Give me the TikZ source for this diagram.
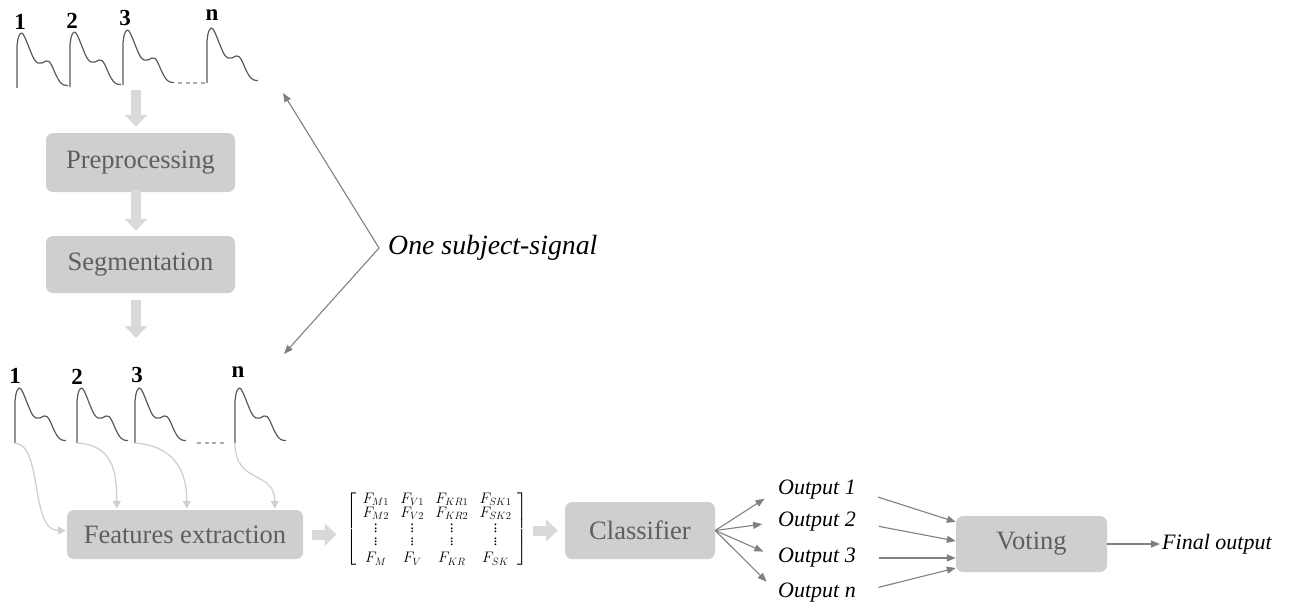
\documentclass[tikz,border=0pt]{standalone}
\usepackage{amsmath}
\usepackage{graphicx}
\usepackage{fontspec}
\setmainfont{Liberation Serif}
\usetikzlibrary{arrows.meta,calc}

\definecolor{boxfill}{HTML}{D0CECE}
\definecolor{boxtext}{HTML}{5F5F5F}
\definecolor{blockgray}{HTML}{D9D9D9}
\definecolor{curvegray}{HTML}{D0D0D0}
\definecolor{linegray}{HTML}{808080}
\definecolor{siggray}{HTML}{5A5A5A}
\definecolor{dotgray}{HTML}{ABABAB}

% compact column of three dots for the feature matrix
\newcommand{\coldots}{\vbox{\baselineskip3.6pt\lineskiplimit0pt\kern1pt\hbox{.}\hbox{.}\hbox{.}}}

\tikzset{
  stagebox/.style={rectangle, rounded corners=7pt, fill=boxfill, text=boxtext,
    font=\fontsize{26.5}{30}\selectfont, inner sep=0pt},
  blockarrow/.style={draw=blockgray, line width=10pt, -{Triangle[length=12pt,width=22pt]}},
  thinarrow/.style={draw=linegray, line width=1.1pt, -{Triangle[length=9pt,width=7pt]}},
  curvearrow/.style={draw=curvegray, line width=1.3pt, -{Triangle[length=8pt,width=8pt]}},
  sigline/.style={draw=siggray, line width=1.2pt, line join=round},
  dotrun/.style={draw=dotgray, line width=2.8pt, dash pattern=on 4pt off 3.5pt},
  idx/.style={font=\fontsize{23}{25}\selectfont\bfseries, inner sep=0pt},
  outlabel/.style={font=\fontsize{22}{26}\selectfont\itshape, anchor=west, inner sep=0pt},
  pulse/.pic={
    \draw[sigline] (0,0) -- (0,-42)
      plot[smooth, tension=0.55] coordinates {(0,-42) (1.2,-50) (3.5,-54.5) (6,-54) (9,-48)
        (13,-38) (17,-29) (21,-25) (25,-25) (29,-27) (32,-26.5) (35,-22) (39,-13)
        (43,-6) (47,-3) (51,-2.5)};
  }
}

\begin{document}
\begin{tikzpicture}[x=1pt, y=-1pt]
  \useasboundingbox (0,0) rectangle (1293,606);

  % ---- raw signal train ----
  \pic at (17,88) {pulse};
  \pic at (70,87) {pulse};
  \pic at (123,85) {pulse};
  \pic at (207,83) {pulse};
  \draw[dotrun] (178,83) -- (206,83);
  \node[idx] (t1) at (20,22) {1};
  \node[idx] (t2) at (72,21) {2};
  \node[idx] (t3) at (125,18) {3};
  \node[idx] (tn) at (212,15) {n};

  % ---- stages ----
  \node[stagebox, minimum width=189pt, minimum height=59pt] (pre) at (140.5,162.5) {Preprocessing};
  \node[stagebox, minimum width=189pt, minimum height=57pt] (seg) at (140.5,264.5) {Segmentation};

  \coordinate (topsig) at (136,90);
  \coordinate (lowsig) at (136,338);
  \draw[blockarrow, shorten >=6pt] (topsig) -- (topsig |- pre.north);
  \draw[blockarrow, shorten <=-2pt, shorten >=5pt] (topsig |- pre.south) -- (topsig |- seg.north);
  \draw[blockarrow, shorten <=7pt] (topsig |- seg.south) -- (lowsig);

  % ---- segmented beats ----
  \pic at (15,443) {pulse};
  \pic at (77,443) {pulse};
  \pic at (135,443) {pulse};
  \pic at (235,443) {pulse};
  \draw[dotrun] (197,443) -- (226,443);
  \node[idx] (s1) at (15,376) {1};
  \node[idx] (s2) at (77,377) {2};
  \node[idx] (s3) at (137,375) {3};
  \node[idx] (sn) at (238,372) {n};
  \coordinate (b1) at (15,443);
  \coordinate (b2) at (77,443);
  \coordinate (b3) at (135,443);
  \coordinate (bn) at (235,443);

  % ---- one subject-signal bracket ----
  \node[font=\fontsize{27.8}{30}\selectfont\itshape, anchor=west, inner sep=0pt] (oss) at (388,248) {One subject-signal};
  \coordinate (vtx) at ($(oss.west)+(-9,0)$);
  \coordinate (sigtop) at (283,93);
  \coordinate (siglow) at (284,354);
  \draw[thinarrow] (vtx) -- (sigtop);
  \draw[thinarrow] (vtx) -- (siglow);

  % ---- feature extraction ----
  \node[stagebox, minimum width=236pt, minimum height=49pt] (fe) at (185,534.5) {Features extraction};
  \draw[curvearrow] (b1) .. controls ($(b1)+(28,2)$) and ($(fe.west)+(-37,-4)$) .. ($(fe.west)+(-1,-4)$);
  \draw[curvearrow] (b2) .. controls ($(b2)+(35,2)$) and ($(fe.north west)+(50,-40)$) .. ($(fe.north west)+(50,-1)$);
  \draw[curvearrow] (b3) .. controls ($(b3)+(40,3)$) and ($(fe.north west)+(120,-38)$) .. ($(fe.north west)+(120,-1)$);
  \draw[curvearrow] (bn) .. controls ($(bn)+(0,42)$) and ($(fe.north west)+(208,-40)$) .. ($(fe.north west)+(208,-1)$);

  % ---- feature matrix ----
  \node[inner sep=0pt, font=\fontsize{17.28}{17}\selectfont] (mat) at (437,529)
    {\scalebox{0.88}{$\renewcommand{\arraystretch}{0.5}\setlength{\arraycolsep}{6.5pt}
      \left[\begin{array}{cccc}
        F_{M1} & F_{V1} & F_{KR1} & F_{SK1}\\[2pt]
        F_{M2} & F_{V2} & F_{KR2} & F_{SK2}\\[4pt]
        \coldots & \coldots & \coldots & \coldots\\[3pt]
        \coldots & \coldots & \coldots & \coldots\\[5pt]
        F_{M} & F_{V} & F_{KR} & F_{SK}
      \end{array}\right]$}};
  \draw[blockarrow, shorten <=9pt, shorten >=10pt] (fe.east) -- (fe.east -| mat.west);

  % ---- classification ----
  \node[stagebox, minimum width=150pt, minimum height=57pt] (cls) at (640,530.5) {Classifier};
  \draw[blockarrow, shorten <=6pt, shorten >=7pt] (mat.east |- cls.west) -- (cls.west);

  \node[outlabel] (o1) at (778,490) {Output 1};
  \node[outlabel] (o2) at (778,522) {Output 2};
  \node[outlabel] (o3) at (778,558) {Output 3};
  \node[outlabel] (on) at (778,593) {Output n};
  \foreach \o in {o1,o2,o3,on}
    \draw[thinarrow, shorten >=16pt] (cls.east) -- (\o.west);

  % ---- voting ----
  \node[stagebox, minimum width=151pt, minimum height=56pt] (vote) at (1031.5,544) {Voting};
  \draw[thinarrow, shorten <=23pt] (o1.east) -- ($(vote.west)+(0,-22)$);
  \draw[thinarrow, shorten <=23pt] (o2.east) -- ($(vote.west)+(0,-3)$);
  \draw[thinarrow, shorten <=23pt] (o3.east) -- ($(vote.west)+(0,14)$);
  \draw[thinarrow, shorten <=23pt] (on.east) -- ($(vote.west)+(0,24)$);

  \node[outlabel] (final) at (1162,544) {Final output};
  \draw[thinarrow, shorten >=2pt] (vote.east) -- (final.west);
\end{tikzpicture}
\end{document}
